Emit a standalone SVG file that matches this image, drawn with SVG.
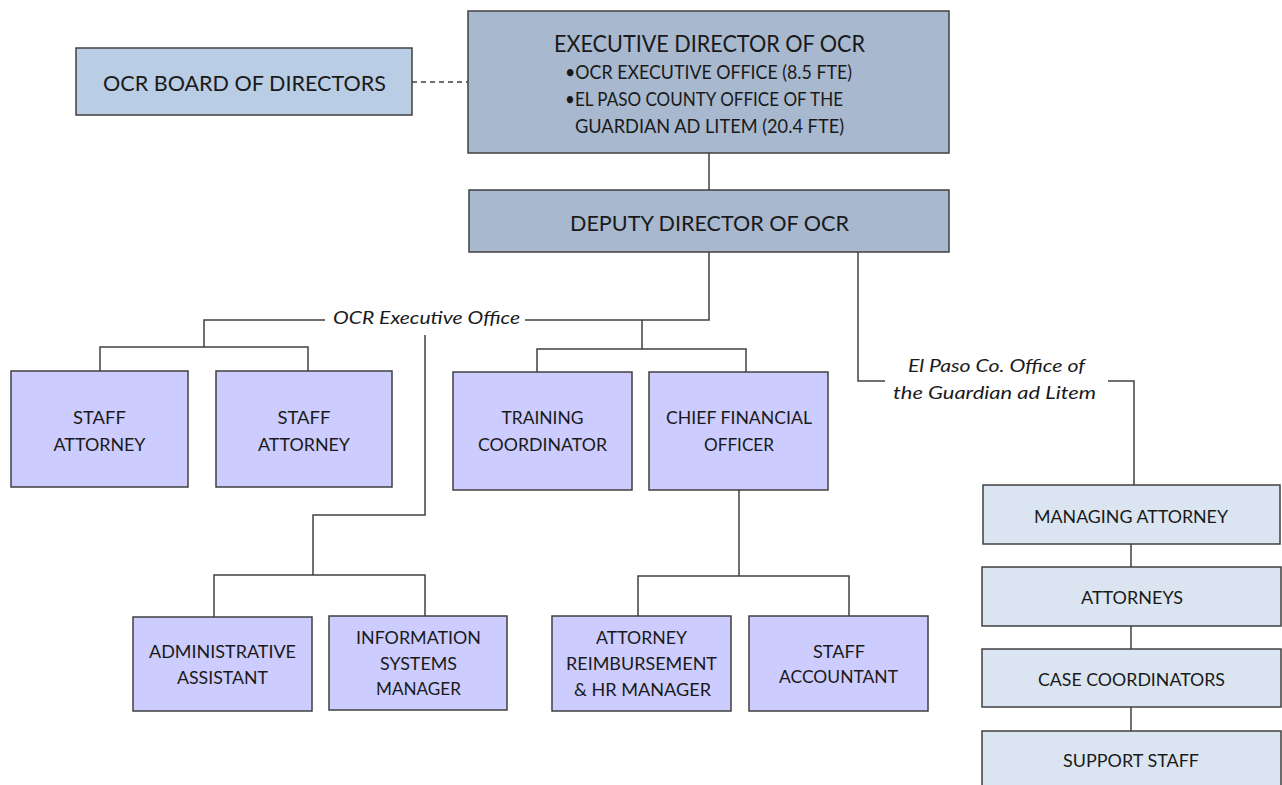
<svg xmlns="http://www.w3.org/2000/svg" width="1282" height="785" viewBox="0 0 1282 785">
  <style>
    text { font-family: Lato, "Open Sans", "Liberation Sans", sans-serif; fill: #1a1a1a; }
    .box { stroke: #404040; stroke-width: 1.5; }
    .lead { fill: #a7b8cf; }
    .board { fill: #b9cde5; }
    .unit { fill: #ccccff; }
    .gal { fill: #dbe5f1; }
    .big { font-size: 22px; }
    .mid { font-size: 19.5px; }
    .sm { font-size: 18px; }
    .c { text-anchor: middle; }
    .lab { font-size: 18px; font-style: italic; }
    .wire { fill: none; stroke: #404040; stroke-width: 1.5; }
  </style>
  <rect width="1282" height="785" fill="#ffffff"/>

  <!-- connectors -->
  <g id="connectors">
    <line class="wire" x1="412" y1="82" x2="468" y2="82" stroke-dasharray="5 4"/>
    <line class="wire" x1="709" y1="153" x2="709" y2="190"/>
    <!-- OCR Executive Office branch -->
    <polyline class="wire" points="709,252 709,320 525,320"/>
    <polyline class="wire" points="325,320 204,320 204,347"/>
    <polyline class="wire" points="100,371 100,347 308,347 308,371"/>
    <polyline class="wire" points="642,320 642,349"/>
    <polyline class="wire" points="537,372 537,349 746,349 746,372"/>
    <polyline class="wire" points="425,335 425,515 313,515 313,575"/>
    <polyline class="wire" points="214,617 214,575 425,575 425,616"/>
    <polyline class="wire" points="739,490 739,576"/>
    <polyline class="wire" points="638,616 638,576 849,576 849,616"/>
    <!-- Guardian ad Litem branch -->
    <polyline class="wire" points="858,252 858,381 885,381"/>
    <polyline class="wire" points="1108,381 1134,381 1134,485"/>
    <line class="wire" x1="1131" y1="544" x2="1131" y2="567"/>
    <line class="wire" x1="1131" y1="626" x2="1131" y2="649"/>
    <line class="wire" x1="1131" y1="707" x2="1131" y2="731"/>
  </g>

  <!-- branch labels -->
  <g id="label-exec-office">
    <text class="lab" x="333" y="324" textLength="187" lengthAdjust="spacingAndGlyphs">OCR Executive Office</text>
  </g>
  <g id="label-gal-office">
    <text class="lab c" x="996.5" y="372" textLength="177" lengthAdjust="spacingAndGlyphs">El Paso Co. Office of</text>
    <text class="lab c" x="994.5" y="399" textLength="203" lengthAdjust="spacingAndGlyphs">the Guardian ad Litem</text>
  </g>

  <g id="board">
    <rect class="box board" x="76" y="48" width="336" height="67"/>
    <text class="big c" x="244.5" y="91" textLength="283" lengthAdjust="spacingAndGlyphs">OCR BOARD OF DIRECTORS</text>
  </g>

  <g id="executive-director">
    <rect class="box lead" x="468" y="11" width="481" height="142"/>
    <text class="c" x="709.5" y="52" font-size="23.5" textLength="311" lengthAdjust="spacingAndGlyphs">EXECUTIVE DIRECTOR OF OCR</text>
    <text class="mid" x="565" y="79" textLength="287" lengthAdjust="spacingAndGlyphs">•OCR EXECUTIVE OFFICE (8.5 FTE)</text>
    <text class="mid" x="565" y="106" textLength="278" lengthAdjust="spacingAndGlyphs">•EL PASO COUNTY OFFICE OF THE</text>
    <text class="mid" x="575" y="133" textLength="269" lengthAdjust="spacingAndGlyphs">GUARDIAN AD LITEM (20.4 FTE)</text>
  </g>

  <g id="deputy-director">
    <rect class="box lead" x="469" y="190" width="480" height="62"/>
    <text class="big c" x="709.5" y="231" textLength="279" lengthAdjust="spacingAndGlyphs">DEPUTY DIRECTOR OF OCR</text>
  </g>

  <g id="staff-attorney-1">
    <rect class="box unit" x="11" y="371" width="177" height="116"/>
    <text class="sm c" x="99.5" y="424" textLength="53" lengthAdjust="spacingAndGlyphs">STAFF</text>
    <text class="sm c" x="99.5" y="451" textLength="92" lengthAdjust="spacingAndGlyphs">ATTORNEY</text>
  </g>

  <g id="staff-attorney-2">
    <rect class="box unit" x="216" y="371" width="176" height="116"/>
    <text class="sm c" x="304" y="424" textLength="53" lengthAdjust="spacingAndGlyphs">STAFF</text>
    <text class="sm c" x="304" y="451" textLength="92" lengthAdjust="spacingAndGlyphs">ATTORNEY</text>
  </g>

  <g id="training-coordinator">
    <rect class="box unit" x="453" y="372" width="179" height="118"/>
    <text class="sm c" x="542.5" y="424" textLength="82" lengthAdjust="spacingAndGlyphs">TRAINING</text>
    <text class="sm c" x="542.5" y="451" textLength="129" lengthAdjust="spacingAndGlyphs">COORDINATOR</text>
  </g>

  <g id="chief-financial-officer">
    <rect class="box unit" x="649" y="372" width="179" height="118"/>
    <text class="sm c" x="739" y="424" textLength="146" lengthAdjust="spacingAndGlyphs">CHIEF FINANCIAL</text>
    <text class="sm c" x="739" y="451" textLength="70" lengthAdjust="spacingAndGlyphs">OFFICER</text>
  </g>

  <g id="administrative-assistant">
    <rect class="box unit" x="133" y="617" width="179" height="94"/>
    <text class="sm c" x="222.5" y="658" textLength="147" lengthAdjust="spacingAndGlyphs">ADMINISTRATIVE</text>
    <text class="sm c" x="222.5" y="684" textLength="91" lengthAdjust="spacingAndGlyphs">ASSISTANT</text>
  </g>

  <g id="information-systems-manager">
    <rect class="box unit" x="329" y="616" width="178" height="94"/>
    <text class="sm c" x="418.5" y="644" textLength="125" lengthAdjust="spacingAndGlyphs">INFORMATION</text>
    <text class="sm c" x="418.5" y="670" textLength="77" lengthAdjust="spacingAndGlyphs">SYSTEMS</text>
    <text class="sm c" x="418.5" y="695" textLength="85" lengthAdjust="spacingAndGlyphs">MANAGER</text>
  </g>

  <g id="reimbursement-hr-manager">
    <rect class="box unit" x="552" y="616" width="179" height="95"/>
    <text class="sm c" x="641.5" y="644" textLength="91" lengthAdjust="spacingAndGlyphs">ATTORNEY</text>
    <text class="sm c" x="641.5" y="670" textLength="151" lengthAdjust="spacingAndGlyphs">REIMBURSEMENT</text>
    <text class="sm c" x="642.5" y="696" textLength="137" lengthAdjust="spacingAndGlyphs">&amp; HR MANAGER</text>
  </g>

  <g id="staff-accountant">
    <rect class="box unit" x="749" y="616" width="179" height="95"/>
    <text class="sm c" x="839" y="658" textLength="52" lengthAdjust="spacingAndGlyphs">STAFF</text>
    <text class="sm c" x="838.5" y="683" textLength="119" lengthAdjust="spacingAndGlyphs">ACCOUNTANT</text>
  </g>

  <g id="managing-attorney">
    <rect class="box gal" x="983" y="485" width="297" height="59"/>
    <text class="sm c" x="1131" y="523" textLength="194" lengthAdjust="spacingAndGlyphs">MANAGING ATTORNEY</text>
  </g>

  <g id="attorneys">
    <rect class="box gal" x="982" y="567" width="299" height="59"/>
    <text class="sm c" x="1132" y="604" textLength="102" lengthAdjust="spacingAndGlyphs">ATTORNEYS</text>
  </g>

  <g id="case-coordinators">
    <rect class="box gal" x="982" y="649" width="299" height="58"/>
    <text class="sm c" x="1131.5" y="686" textLength="187" lengthAdjust="spacingAndGlyphs">CASE COORDINATORS</text>
  </g>

  <g id="support-staff">
    <rect class="box gal" x="982" y="731" width="299" height="62"/>
    <text class="sm c" x="1131" y="767" textLength="136" lengthAdjust="spacingAndGlyphs">SUPPORT STAFF</text>
  </g>
</svg>
